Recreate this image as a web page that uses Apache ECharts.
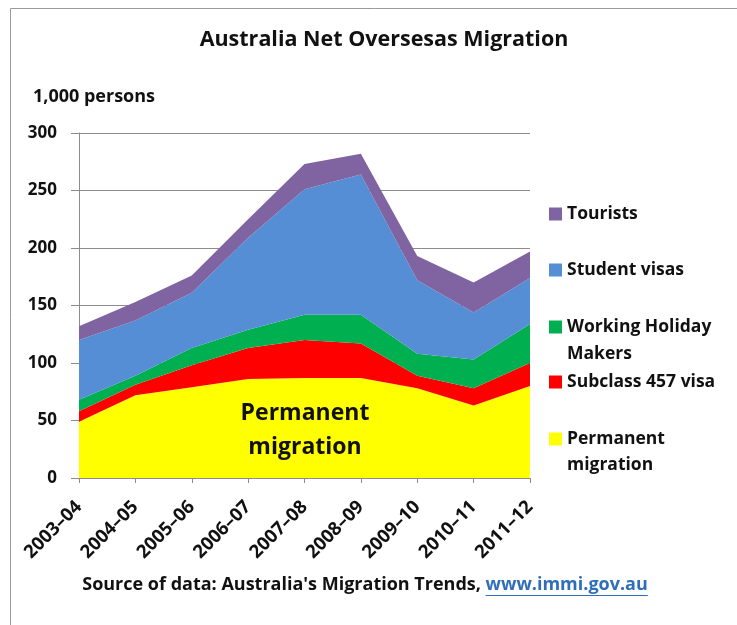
<!DOCTYPE html>
<html>
<head>
<meta charset="utf-8">
<script src="https://cdn.jsdelivr.net/npm/echarts@6/dist/echarts.min.js"></script>
<style>
  html, body { margin: 0; padding: 0; background: #fff; }
  #chart { width: 737px; height: 625px; }
</style>
</head>
<body>
<div id="chart"></div>
<script>
// Financial years
const categories = ['2003–04', '2004–05', '2005–06', '2006–07', '2007–08', '2008–09', '2009–10', '2010–11', '2011–12'];

// Net overseas migration by visa type, thousands of persons (stacked from the bottom up)
const permanentMigration = [49, 72, 79, 86, 87, 87, 78, 63, 80];
const subclass457 = [9, 9, 19, 27, 33, 30, 11, 15, 20];
const workingHolidayMakers = [10, 8, 15, 16, 22, 25, 19, 25, 34];
const studentVisas = [52, 48, 48, 80, 109, 122, 64, 41, 40];
const tourists = [12, 16, 15, 16, 22, 18, 21, 26, 23];

const yTicks = { min: 0, max: 300, interval: 50 };

const FONT = '"Open Sans", Lato, sans-serif';
const INK = '#111';

const seriesDefs = [
  { name: 'Permanent migration', data: permanentMigration, color: '#FFFF00' },
  { name: 'Subclass 457 visa', data: subclass457, color: '#FF0000' },
  { name: 'Working Holiday Makers', data: workingHolidayMakers, color: '#00B050' },
  { name: 'Student visas', data: studentVisas, color: '#558ED5' },
  { name: 'Tourists', data: tourists, color: '#8064A2' }
];

// One legend block per entry so each sits beside its own row;
// centerY is the middle of the entry's first text line
function legendEntry(name, label, centerY) {
  return {
    data: [{ name: name }],
    left: 549,
    top: centerY - 11.5,
    padding: 0,
    icon: 'rect',
    itemWidth: 13,
    itemHeight: 13,
    itemGap: 0,
    selectedMode: false,
    formatter: function () { return label; },
    textStyle: {
      fontFamily: FONT,
      fontWeight: 'bold',
      fontSize: 17.5,
      color: INK,
      lineHeight: 27
    }
  };
}

// second line of a wrapped legend label
function legendContinuation(text, centerY) {
  return {
    type: 'text',
    x: 567,
    y: centerY,
    style: { text: text, font: 'bold 17.5px ' + FONT, fill: INK, verticalAlign: 'middle' }
  };
}

const chart = echarts.init(document.getElementById('chart'), null, { renderer: 'canvas' });

// Measure the source line so the link part can be underlined
const measureCtx = document.createElement('canvas').getContext('2d');
const srcFont = 'bold 18px ' + FONT;
measureCtx.font = srcFont;
const srcMain = "Source of data: Australia's Migration Trends, ";
const srcLink = 'www.immi.gov.au';
const wMain = measureCtx.measureText(srcMain).width;
const wLink = measureCtx.measureText(srcLink).width;
const srcCenter = 365;
const srcLeft = srcCenter - (wMain + wLink) / 2;
const srcY = 585;

chart.setOption({
  animation: false,
  backgroundColor: '#fff',
  title: {
    text: 'Australia Net Oversesas Migration',
    left: 379,
    top: 24,
    textAlign: 'center',
    textStyle: { fontFamily: FONT, fontWeight: 'bold', fontSize: 21.5, color: INK }
  },
  grid: { left: 79, right: 207, top: 133, bottom: 147 },
  legend: [
    legendEntry('Tourists', 'Tourists', 212),
    legendEntry('Student visas', 'Student visas', 268),
    legendEntry('Working Holiday Makers', 'Working Holiday', 325),
    legendEntry('Subclass 457 visa', 'Subclass 457 visa', 380),
    legendEntry('Permanent migration', 'Permanent', 437)
  ],
  xAxis: {
    type: 'category',
    data: categories,
    boundaryGap: false,
    axisLine: { lineStyle: { color: '#8c8c8c', width: 1 } },
    axisTick: { show: true, length: 5, lineStyle: { color: '#8c8c8c' } },
    axisLabel: {
      rotate: 45,
      margin: 26,
      interval: 0,
      fontFamily: FONT,
      fontWeight: 'bold',
      fontSize: 18.5,
      color: INK
    },
    splitLine: { show: false }
  },
  yAxis: {
    type: 'value',
    min: yTicks.min,
    max: yTicks.max,
    interval: yTicks.interval,
    axisLine: { show: true, lineStyle: { color: '#8c8c8c', width: 1 } },
    axisTick: { show: true, length: 8, lineStyle: { color: '#8c8c8c' } },
    axisLabel: {
      margin: 22,
      fontFamily: FONT,
      fontWeight: 'bold',
      fontSize: 17,
      color: INK,
      formatter: function (v) { return String(v); }
    },
    splitLine: { show: true, lineStyle: { color: '#8c8c8c', width: 1 } }
  },
  series: seriesDefs.map(function (s) {
    return {
      name: s.name,
      type: 'line',
      stack: 'nom',
      data: s.data,
      symbol: 'none',
      showSymbol: false,
      lineStyle: { width: 0, color: s.color },
      itemStyle: { color: s.color },
      areaStyle: { color: s.color, opacity: 1 },
      emphasis: { disabled: true }
    };
  }),
  graphic: [
    // chart frame
    {
      type: 'rect',
      silent: true,
      shape: { x: 10.5, y: 8.5, width: 800, height: 700 },
      style: { fill: 'none', stroke: '#9a9a9a', lineWidth: 1 },
      z: -1
    },
    {
      type: 'text',
      x: 33,
      y: 97,
      style: { text: '1,000 persons', font: 'bold 18px ' + FONT, fill: INK, verticalAlign: 'middle' }
    },
    legendContinuation('Makers', 354),
    legendContinuation('migration', 465),
    {
      type: 'text',
      x: 305,
      y: 430,
      z: 10,
      style: {
        text: 'Permanent\nmigration',
        font: 'bold 23px ' + FONT,
        fill: INK,
        align: 'center',
        verticalAlign: 'middle',
        lineHeight: 34
      }
    },
    {
      type: 'text',
      x: srcLeft,
      y: srcY,
      style: { text: srcMain, font: srcFont, fill: INK, verticalAlign: 'middle' }
    },
    {
      type: 'text',
      x: srcLeft + wMain,
      y: srcY,
      style: { text: srcLink, font: srcFont, fill: '#2F6EBA', verticalAlign: 'middle' }
    },
    {
      type: 'line',
      shape: { x1: srcLeft + wMain, y1: srcY + 10.5, x2: srcLeft + wMain + wLink, y2: srcY + 10.5 },
      style: { stroke: '#2F6EBA', lineWidth: 1.2 }
    }
  ]
});
</script>
</body>
</html>
